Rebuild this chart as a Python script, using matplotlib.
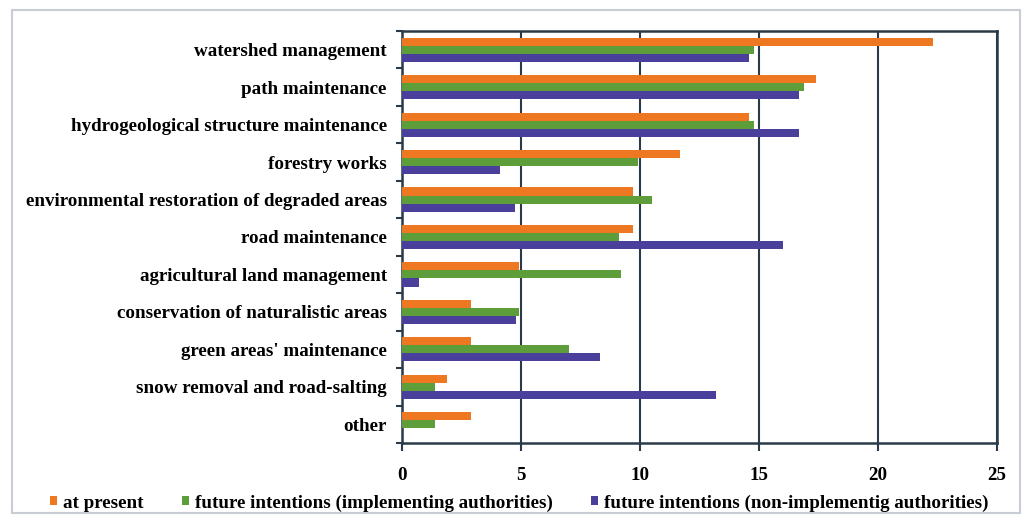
import numpy as np
import matplotlib.pyplot as plt
from matplotlib.patches import Rectangle

# activities, top to bottom
activities = ["watershed management", "path maintenance",
              "hydrogeological structure maintenance", "forestry works",
              "environmental restoration of degraded areas", "road maintenance",
              "agricultural land management", "conservation of naturalistic areas",
              "green areas' maintenance", "snow removal and road-salting", "other"]

at_present = [22.3, 17.4, 14.6, 11.7, 9.7, 9.7, 4.9, 2.9, 2.9, 1.9, 2.9]
future_impl = [14.8, 16.9, 14.8, 9.9, 10.5, 9.1, 9.2, 4.9, 7.0, 1.4, 1.4]
future_non_impl = [14.6, 16.7, 16.7, 4.1, 4.75, 16.0, 0.7, 4.8, 8.3, 13.2, 0.0]

series_names = ["at present", "future intentions (implementing authorities)",
                "future intentions (non-implementig authorities)"]
colors = ["#EE7722", "#5E9E3A", "#4B3F9C"]
axis_col = "#2B3A48"
fs = 13.7

plt.rcParams['font.family'] = ['Liberation Serif', 'DejaVu Serif']
plt.rcParams['font.weight'] = 'bold'

fig = plt.figure(figsize=(10.30, 5.16), dpi=100)
# thin grey frame round the chart
fig.patches.append(Rectangle((12/1030, 3/516), 1008/1030, 503/516,
                             transform=fig.transFigure, fill=False,
                             edgecolor="#C8CCD4", linewidth=1.5))
ax = fig.add_axes([402/1030, 1 - 443/516, 595/1030, 412/516])

n = len(activities)
y = np.arange(n)
h = 0.215
for i, (vals, name) in enumerate(zip([at_present, future_impl, future_non_impl], series_names)):
    ax.barh(y + (i - 1) * h, vals, height=h, color=colors[i], label=name, zorder=3)

ax.set_ylim(n - 0.5, -0.5)
ax.set_xlim(0, 25)
ax.set_xticks([0, 5, 10, 15, 20, 25])
ax.set_yticks(y)
ax.set_yticklabels(activities, fontsize=fs)
ax.set_yticks(np.arange(n + 1) - 0.5, minor=True)
ax.tick_params(axis='y', which='major', length=0, pad=11)
ax.tick_params(axis='y', which='minor', length=4, width=1.5, color=axis_col)
ax.tick_params(axis='x', length=6, width=1.5, color=axis_col, labelsize=fs, pad=11)
ax.grid(axis='x', color=axis_col, linewidth=1.5, zorder=1)
for s in ax.spines.values():
    s.set_color(axis_col)
    s.set_linewidth(1.8)

fig.legend(loc='center left', bbox_to_anchor=(50/1030, 1 - 503/516), ncol=3,
           frameon=False, fontsize=fs, handlelength=0.35, handleheight=0.35,
           handletextpad=0.35, columnspacing=2.0, borderpad=0, borderaxespad=0)

fig.savefig("out.png", dpi=100)
